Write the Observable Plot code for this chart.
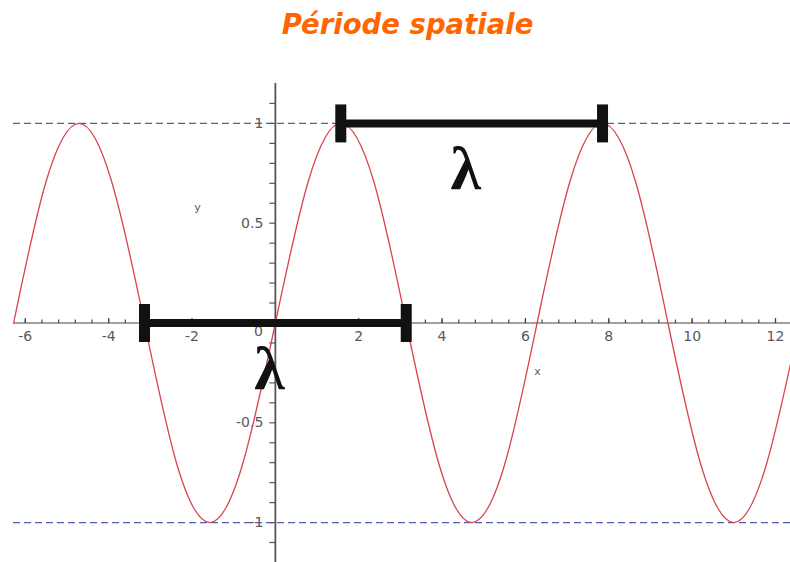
<!DOCTYPE html>
<html>
<head>
<meta charset="utf-8">
<script src="https://cdn.jsdelivr.net/npm/d3@7"></script>
<script src="https://cdn.jsdelivr.net/npm/@observablehq/plot@0.6"></script>
<style>
  html, body { margin: 0; padding: 0; background: #fff; }
  #title {
    width: 790px; height: 50px; box-sizing: border-box; padding-left: 25px;
    text-align: center; line-height: 48px;
    font-family: "DejaVu Sans", sans-serif; font-weight: bold; font-style: italic;
    font-size: 27.5px; color: #ff6600;
  }
  svg { display: block; }
</style>
</head>
<body>
<div id="title">Période spatiale</div>
<div id="chart"></div>
<script>
// Curve (quarter-period samples of the wave)
const curveX = [-6.28, -5.50, -4.71, -3.93, -3.14, -2.36, -1.57, -0.79, 0, 0.79, 1.57, 2.36, 3.14,
                3.93, 4.71, 5.50, 6.28, 7.07, 7.85, 8.64, 9.42, 10.21, 11.00, 11.78, 12.57];
const curveY = [0, 0.71, 1, 0.71, 0, -0.71, -1, -0.71, 0, 0.71, 1, 0.71, 0,
                -0.71, -1, -0.71, 0, 0.71, 1, 0.71, 0, -0.71, -1, -0.71, 0];

// Period (lambda) markers
const periodStart = [1.57, -3.14];
const periodEnd   = [7.85, 3.14];
const periodLevel = [1, 0];
const periodLabel = ["λ", "λ"];

// Dashed reference levels
const dashLevels = [1, -1];

// Axis ticks and labels
const xTickLabels = [-6, -4, -2, 0, 2, 4, 6, 8, 10, 12];
const yTickLabels = [-1, -0.5, 0.5, 1];
const xMinorTicks = d3.range(-6, 12.01, 0.4).map(v => +v.toFixed(1)).filter(v => Math.abs(v) > 1e-9);
const yMinorTicks = d3.range(-1.1, 1.11, 0.1).map(v => +v.toFixed(1)).filter(v => Math.abs(v) > 1e-9);
const xMajorTicks = xTickLabels.filter(v => v !== 0);

const curve = curveX.map((x, i) => ({x, y: curveY[i]}));
const periods = periodStart.map((s, i) => ({x1: s, x2: periodEnd[i], y: periodLevel[i], label: periodLabel[i]}));
const caps = periods.flatMap(p => [{x: p.x1, y: p.y}, {x: p.x2, y: p.y}]);

const tickUpMinor = {draw(ctx) { ctx.moveTo(0, 0); ctx.lineTo(0, -3.5); }};
const tickUpMajor = {draw(ctx) { ctx.moveTo(0, 0); ctx.lineTo(0, -5); }};
const tickLeft = {draw(ctx) { ctx.moveTo(0, 0); ctx.lineTo(-6, 0); }};
const capSymbol = {draw(ctx) { ctx.rect(-5.5, -19, 11, 38); }};

const labelFont = "DejaVu Sans, sans-serif";
const axisColor = "#595959";

const chart = Plot.plot({
  width: 790,
  height: 512,
  marginLeft: 13,
  marginRight: 0,
  marginTop: 33,
  marginBottom: 0,
  style: {background: "white", overflow: "hidden"},
  x: {domain: [-6.2832, 12.36], axis: null},
  y: {domain: [-1.2, 1.2], axis: null},
  marks: [
    Plot.ruleY(dashLevels, {stroke: "#4d5fa8", strokeWidth: 1.2, strokeDasharray: "7,4"}),
    Plot.ruleY([0], {stroke: "#444", strokeWidth: 1.2}),
    Plot.ruleX([0], {stroke: "#555", strokeWidth: 1.8}),
    Plot.dot(xMinorTicks, {x: d => d, y: 0, symbol: tickUpMinor, r: 3, fill: "none", stroke: "#444", strokeWidth: 1.2}),
    Plot.dot(xMajorTicks, {x: d => d, y: 0, symbol: tickUpMajor, r: 3, fill: "none", stroke: "#444", strokeWidth: 1.2}),
    Plot.dot(yMinorTicks, {x: 0, y: d => d, symbol: tickLeft, r: 3, fill: "none", stroke: "#555", strokeWidth: 1.2}),
    Plot.text(xTickLabels.filter(v => v !== 0), {x: d => d, y: 0, text: d => String(d),
      lineAnchor: "top", dy: 8, fontSize: 14, fontFamily: labelFont, fill: axisColor}),
    Plot.text([0], {x: d => d, y: 0, text: d => String(d), lineAnchor: "top", dy: 3, dx: -17,
      fontSize: 14, fontFamily: labelFont, fill: axisColor}),
    Plot.text(yTickLabels, {x: 0, y: d => d, text: d => String(d), textAnchor: "end", dx: -12,
      fontSize: 14, fontFamily: labelFont, fill: axisColor}),
    Plot.text(["y"], {x: -1.87, y: 0.58, text: d => d, fontSize: 11, fontFamily: labelFont, fill: axisColor}),
    Plot.text(["x"], {x: 6.29, y: -0.245, text: d => d, fontSize: 11, fontFamily: labelFont, fill: axisColor}),
    Plot.line(curve, {x: "x", y: "y", curve: "natural", stroke: "#d8444c", strokeWidth: 1.3, clip: true}),
    Plot.ruleY(periods, {y: "y", x1: "x1", x2: "x2", stroke: "#111", strokeWidth: 8}),
    Plot.dot(caps, {x: "x", y: "y", symbol: capSymbol, r: 5, fill: "#111", stroke: "none"}),
    Plot.text(periods, {x: d => (d.x1 + d.x2) / 2, y: "y", text: "label", dx: -6, dy: 46,
      fontSize: 62, fontWeight: "bold", fontFamily: "Liberation Serif, serif", fill: "#111"})
  ]
});
document.getElementById("chart").appendChild(chart);
</script>
</body>
</html>
